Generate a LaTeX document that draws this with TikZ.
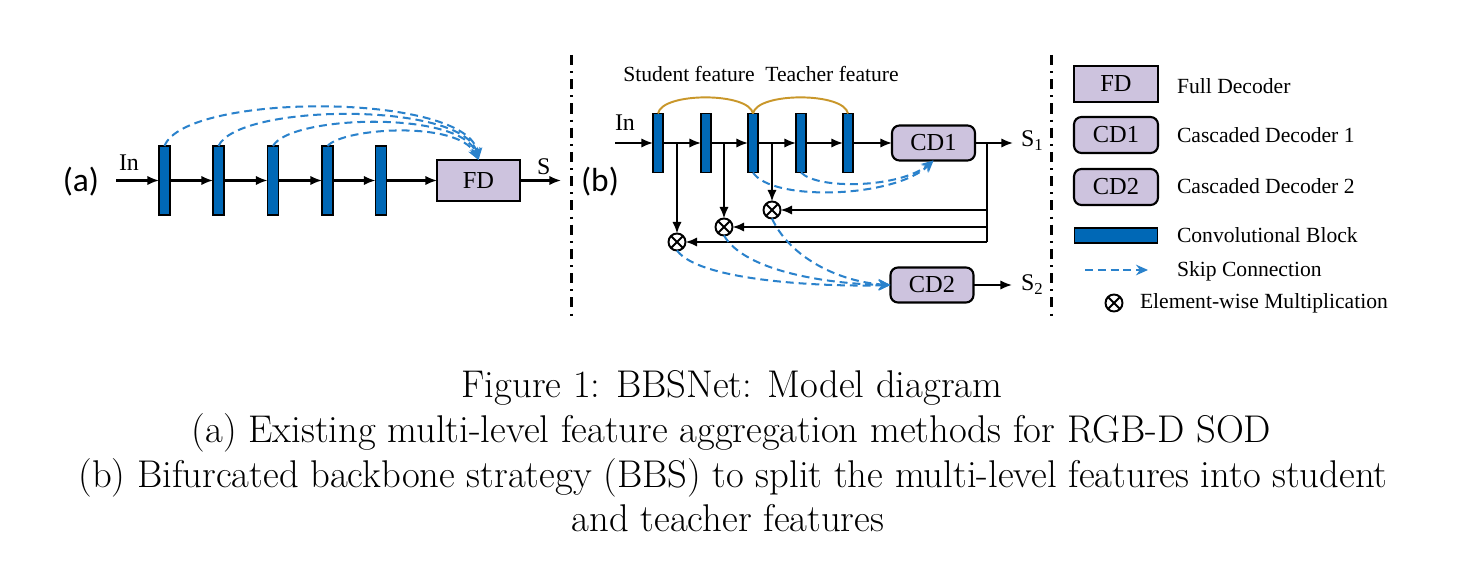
\documentclass[tikz,border=0pt]{standalone}
\usepackage{fontspec}
\newfontfamily\tnr{Liberation Serif}
\newfontfamily\calfont{Carlito}
\usetikzlibrary{arrows.meta}
\definecolor{blockblue}{HTML}{0068B6}
\definecolor{skipblue}{HTML}{2A82CC}
\definecolor{lav}{HTML}{CDC3DE}
\definecolor{goldc}{HTML}{C9972A}
\begin{document}
\begin{tikzpicture}[x=0.02cm,y=-0.02cm,
  every node/.style={inner sep=0pt, outer sep=0pt},
  convA/.style={draw=black,line width=1pt,fill=blockblue,minimum width=0.22cm,minimum height=1.38cm},
  convB/.style={convA,minimum width=0.2cm,minimum height=1.18cm},
  dec/.style={draw=black,line width=1.2pt,fill=lav,font=\tnr\fontsize{13.9}{15}\selectfont},
  fdbox/.style={dec,minimum width=1.66cm,minimum height=0.82cm},
  cdbox/.style={dec,rounded corners=0.15cm,minimum width=1.66cm,minimum height=0.70cm},
  lgbox/.style={dec,minimum width=1.68cm,minimum height=0.72cm},
  arr/.style={line width=1.15pt,-{Latex[length=6.6pt,width=5.3pt]}},
  plain/.style={line width=1.15pt},
  skip/.style={draw=skipblue,line width=1.15pt,dash pattern=on 4.5pt off 2.8pt,-{Stealth[length=6.8pt,width=6pt]}},
  goldarc/.style={draw=goldc,line width=1.1pt},
  mult/.style={circle,draw=black,line width=1.1pt,minimum size=0.34cm,fill=white,path picture={\draw[line width=1.1pt] (path picture bounding box.north west)--(path picture bounding box.south east) (path picture bounding box.north east)--(path picture bounding box.south west);}},
  lbl/.style={font=\tnr\fontsize{13.6}{15}\selectfont},
  txt/.style={font=\tnr\fontsize{12.3}{14}\selectfont},
  sep/.style={line width=1.7pt,dash pattern=on 5.7pt off 3.5pt on 1.1pt off 3.5pt},
  tag/.style={font=\calfont\fontsize{19}{21}\selectfont},
  captxt/.style={font=\fontsize{22}{24.9}\selectfont}
]
\fill[white] (0,0) rectangle (1464,587);
\useasboundingbox (0,0) rectangle (1464,587);

% ---------- (a) ----------
\node[tag] (ta) at (81,181.5) {(a)};
\node[lbl,anchor=base west] (ina) at (119,171) {In};
\node[convA] (a1) at (164.5,180.5) {};
\node[convA] (a2) at (218.5,180.5) {};
\node[convA] (a3) at (273,180.5) {};
\node[convA] (a4) at (327.5,180.5) {};
\node[convA] (a5) at (381,180.5) {};
\node[fdbox] (FD) at (478.5,180.5) {FD};
\coordinate (ain) at (116,180.5);
\coordinate (aout) at (561,180.5);
\node[lbl,anchor=base west] (aS) at (537,175) {S};
\draw[arr] (ain) -- (a1);
\draw[arr] (a1) -- (a2);
\draw[arr] (a2) -- (a3);
\draw[arr] (a3) -- (a4);
\draw[arr] (a4) -- (a5);
\draw[arr] (a5) -- (FD);
\draw[arr] (FD) -- (aout);
\draw[skip] (a1.north) .. controls (185,92) and (470,92) .. (FD.north);
\draw[skip] (a2.north) .. controls (238,103) and (466,101) .. (FD.north);
\draw[skip] (a3.north) .. controls (290,115) and (462,110) .. (FD.north);
\draw[skip] (a4.north) .. controls (343,128) and (458,120) .. (FD.north);

% separators
\coordinate (s1t) at (571,55);
\coordinate (s1b) at (571,318);
\draw[sep] (s1t) -- (s1b);
\coordinate (s2t) at (1051,55);
\coordinate (s2b) at (1051,320);
\draw[sep] (s2t) -- (s2b);

% ---------- (b) ----------
\node[tag] (tb) at (600,181.5) {(b)};
\node[txt,anchor=base] (stud) at (689,82) {Student feature};
\node[txt,anchor=base] (teach) at (832,82) {Teacher feature};
\node[lbl,anchor=base west] (inb) at (615,131) {In};
\node[convB] (b1) at (658,143) {};
\node[convB] (b2) at (706,143) {};
\node[convB] (b3) at (753,143) {};
\node[convB] (b4) at (801,143) {};
\node[convB] (b5) at (848,143) {};
\node[cdbox] (CD1) at (933.5,143) {CD1};
\node[cdbox] (CD2) at (932,285) {CD2};
\coordinate (bin) at (615,143);
\coordinate (s1end) at (1013,143);
\coordinate (s2end) at (1012,285);
\node[lbl,anchor=base west] (S1) at (1021,147) {S\textsubscript{1}};
\node[lbl,anchor=base west] (S2) at (1021,291) {S\textsubscript{2}};
\draw[arr] (bin) -- (b1);
\draw[arr] (b1) -- (b2);
\draw[arr] (b2) -- (b3);
\draw[arr] (b3) -- (b4);
\draw[arr] (b4) -- (b5);
\draw[arr] (b5) -- (CD1);
\draw[arr] (CD1) -- (s1end);
\draw[arr] (CD2) -- (s2end);
\draw[goldarc] (b1.north) .. controls (662,92) and (749,92) .. (b3.north);
\draw[goldarc] (b3.north) .. controls (757,92) and (844,92) .. (b5.north);

\node[mult] (m1) at (677,242) {};
\node[mult] (m2) at (724,227) {};
\node[mult] (m3) at (772,210) {};
\coordinate (d1) at (677,143);
\coordinate (d2) at (724,143);
\coordinate (d3) at (772,143);
\draw[arr] (d1) -- (m1);
\draw[arr] (d2) -- (m2);
\draw[arr] (d3) -- (m3);
\coordinate (br) at (987,143);
\coordinate (j1) at (987,242);
\coordinate (j2) at (987,227);
\coordinate (j3) at (987,210);
\draw[plain] (br) -- (j1);
\draw[arr] (j1) -- (m1);
\draw[arr] (j2) -- (m2);
\draw[arr] (j3) -- (m3);

\draw[skip] (b3.south) .. controls (772,202) and (895,198) .. (CD1.south);
\draw[skip] (b4.south) .. controls (818,190) and (900,188) .. (CD1.south);
\draw[skip] (m1.south) .. controls (700,282) and (830,287) .. (CD2.west);
\draw[skip] (m2.south) .. controls (745,272) and (830,284) .. (CD2.west);
\draw[skip] (m3.south) .. controls (790,258) and (840,282) .. (CD2.west);

% ---------- legend ----------
\node[lgbox] (lFD) at (1116,84) {FD};
\node[lgbox,rounded corners=0.15cm] (lCD1) at (1116,135) {CD1};
\node[lgbox,rounded corners=0.15cm] (lCD2) at (1116,187) {CD2};
\node[convA,minimum width=1.66cm,minimum height=0.30cm] (lconv) at (1116,235.5) {};
\coordinate (ls1) at (1085,270);
\coordinate (ls2) at (1148,270);
\draw[skip] (ls1) -- (ls2);
\node[mult] (lm) at (1114,303) {};
\node[txt,anchor=base west] (tFD) at (1177,94) {Full Decoder};
\node[txt,anchor=base west] (tCD1) at (1177,143) {Cascaded Decoder 1};
\node[txt,anchor=base west] (tCD2) at (1177,194) {Cascaded Decoder 2};
\node[txt,anchor=base west] (tconv) at (1177,243) {Convolutional Block};
\node[txt,anchor=base west] (tskip) at (1177,277) {Skip Connection};
\node[txt,anchor=base west] (tmult) at (1140,309) {Element-wise Multiplication};

% ---------- caption ----------
\node[captxt,anchor=base] (c1) at (732,398) {Figure 1: BBSNet: Model diagram};
\node[captxt,anchor=base] (c2) at (731.5,442.5) {(a) Existing multi-level feature aggregation methods for RGB-D SOD};
\node[captxt,anchor=base] (c3) at (733,487) {(b) Bifurcated backbone strategy (BBS) to split the multi-level features into student};
\node[captxt,anchor=base] (c4) at (728,531.5) {and teacher features};
\end{tikzpicture}
\end{document}
